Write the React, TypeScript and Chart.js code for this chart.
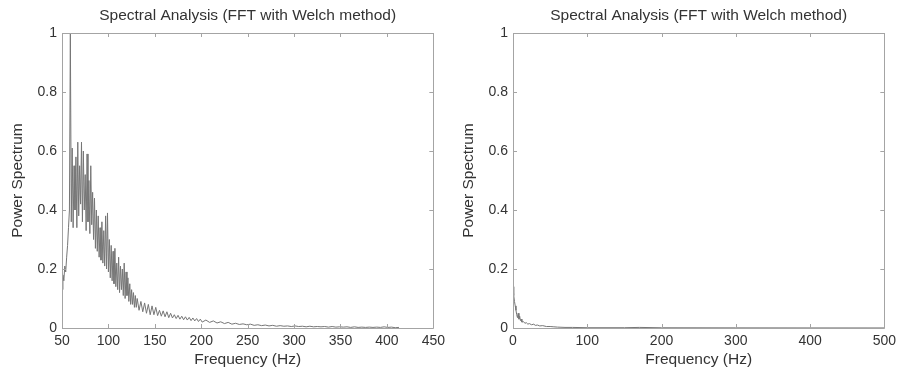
import React, { useEffect, useRef } from "react";
import { Chart, registerables } from "chart.js";

Chart.register(...registerables);

const chartTitle = "Spectral Analysis (FFT with Welch method)";
const xAxisTitle = "Frequency (Hz)";
const yAxisTitle = "Power Spectrum";

// Left panel (50–450 Hz)
const leftFreq = [
  50, 51, 52, 53, 54, 55, 56, 57, 58, 59,
  60, 61, 62, 63, 64, 65, 66, 67, 68, 69,
  70, 71, 72, 73, 74, 75, 76, 77, 78, 79,
  80, 81, 82, 83, 84, 85, 86, 87, 88, 89,
  90, 91, 92, 93, 94, 95, 96, 97, 98, 99,
  100, 101, 102, 103, 104, 105, 106, 107, 108, 109,
  110, 111, 112, 113, 114, 115, 116, 117, 118, 119,
  120, 121, 122, 123, 124, 125, 126, 127, 128, 129, 130,
  131, 133, 135, 137, 139, 141, 143, 145, 147, 149,
  151, 153, 155, 157, 159, 161, 163, 165, 167, 169,
  171, 173, 175, 177, 179, 181, 183, 185, 187, 189,
  191, 193, 195, 197, 199,
  201, 205, 209, 213, 217, 221, 225, 229, 233, 237,
  241, 245, 249, 253, 257, 261, 265, 269, 273, 277,
  281, 285, 289, 293, 297, 301, 305, 309, 313, 317,
  321, 325, 329, 333, 337, 341, 345, 349, 353, 357,
  361, 365, 369, 373, 377, 381, 385, 389, 393, 397,
  401, 405, 409, 413,
];
const leftPower = [
  0.13, 0.18, 0.16, 0.21, 0.19, 0.24, 0.28, 0.34, 0.40, 1.0,
  0.36, 0.61, 0.34, 0.55, 0.40, 0.58, 0.34, 0.63, 0.38, 0.55,
  0.42, 0.63, 0.36, 0.60, 0.40, 0.52, 0.33, 0.59, 0.36, 0.50,
  0.32, 0.55, 0.35, 0.46, 0.30, 0.44, 0.27, 0.40, 0.26, 0.38,
  0.24, 0.34, 0.23, 0.36, 0.22, 0.33, 0.21, 0.38, 0.20, 0.39,
  0.19, 0.30, 0.17, 0.28, 0.16, 0.26, 0.15, 0.27, 0.14, 0.22,
  0.13, 0.24, 0.12, 0.21, 0.13, 0.20, 0.11, 0.22, 0.10, 0.19,
  0.11, 0.17, 0.09, 0.15, 0.08, 0.13, 0.08, 0.12, 0.07, 0.11, 0.07,
  0.10, 0.06, 0.09, 0.055, 0.085, 0.05, 0.08, 0.045, 0.075, 0.045,
  0.07, 0.042, 0.06, 0.04, 0.058, 0.038, 0.055, 0.035, 0.05, 0.034,
  0.045, 0.032, 0.043, 0.03, 0.04, 0.028, 0.038, 0.027, 0.036, 0.025,
  0.034, 0.024, 0.032, 0.022, 0.03,
  0.02, 0.027, 0.019, 0.024, 0.017, 0.021, 0.015, 0.019, 0.013, 0.016,
  0.012, 0.014, 0.011, 0.013, 0.009, 0.011, 0.008, 0.01, 0.007, 0.009,
  0.006, 0.008, 0.006, 0.007, 0.005, 0.007, 0.005, 0.006, 0.004, 0.006,
  0.004, 0.005, 0.004, 0.005, 0.003, 0.005, 0.003, 0.004, 0.003, 0.004,
  0.002, 0.004, 0.002, 0.003, 0.002, 0.003, 0.002, 0.003, 0.002, 0.004,
  0.002, 0.003, 0.001, 0.002,
];

// Right panel (0–500 Hz)
const rightFreq = [
  0, 1, 2, 3, 4, 5, 6, 7, 8, 9, 10, 11, 12, 14, 16, 18, 20, 22, 25, 28,
  30, 33, 36, 40, 45, 50, 55, 60, 70, 80, 100, 150, 170, 200, 300, 400, 500,
];
const rightPower = [
  0.14, 0.11, 0.09, 0.075, 0.06, 0.045, 0.035, 0.05, 0.03, 0.04, 0.025, 0.03,
  0.02, 0.022, 0.016, 0.018, 0.013, 0.015, 0.011, 0.013, 0.009, 0.01, 0.007,
  0.008, 0.005, 0.005, 0.004, 0.003, 0.002, 0.002, 0.001, 0.001, 0.002, 0.0008,
  0.0005, 0.0003, 0.0002,
];

const leftXTicks = [50, 100, 150, 200, 250, 300, 350, 400, 450];
const rightXTicks = [0, 100, 200, 300, 400, 500];
const yTicks = [0, 0.2, 0.4, 0.6, 0.8, 1];

const TEXT = "#333333";
const AXIS = "#a4a4a4";
const LINE = "#767676";
const FONT = "'Liberation Sans', Arial, sans-serif";

const boxPlugin = {
  id: "matlabBox",
  afterDatasetsDraw(chart: any) {
    const { ctx, chartArea } = chart;
    const { left, right, top, bottom } = chartArea;
    const xs = chart.scales.x;
    const ys = chart.scales.y;
    ctx.save();
    ctx.strokeStyle = AXIS;
    ctx.lineWidth = 1;
    ctx.beginPath();
    ctx.rect(Math.round(left) + 0.5, Math.round(top) + 0.5, Math.round(right - left), Math.round(bottom - top));
    ctx.stroke();
    ctx.beginPath();
    xs.ticks.forEach((t: any) => {
      const px = Math.round(xs.getPixelForValue(t.value)) + 0.5;
      ctx.moveTo(px, bottom);
      ctx.lineTo(px, bottom - 4);
      ctx.moveTo(px, top);
      ctx.lineTo(px, top + 4);
    });
    ys.ticks.forEach((t: any) => {
      const py = Math.round(ys.getPixelForValue(t.value)) + 0.5;
      ctx.moveTo(left, py);
      ctx.lineTo(left + 4, py);
      ctx.moveTo(right, py);
      ctx.lineTo(right - 4, py);
    });
    ctx.stroke();
    ctx.restore();
  },
};

const CANVAS_W = 450;
const CANVAS_H = 374;

function makeConfig(freq: number[], power: number[], xTicks: number[]) {
  const points = freq.map((f, i) => ({ x: f, y: power[i] }));
  return {
    type: "scatter" as const,
    data: {
      datasets: [
        {
          data: points,
          showLine: true,
          borderColor: LINE,
          borderWidth: 1,
          pointRadius: 0,
          tension: 0,
        },
      ],
    },
    options: {
      responsive: false,
      animation: false as const,
      layout: { padding: { left: 0, right: 15, top: 0, bottom: 0 } },
      plugins: {
        legend: { display: false },
        tooltip: { enabled: false },
        title: {
          display: true,
          fullSize: false,
          text: chartTitle,
          color: TEXT,
          font: { family: FONT, size: 15.5, weight: "normal" as const },
          padding: { top: 6, bottom: 8.4 },
        },
      },
      scales: {
        x: {
          type: "linear" as const,
          min: xTicks[0],
          max: xTicks[xTicks.length - 1],
          afterBuildTicks(scale: any) {
            scale.ticks = xTicks.map((v) => ({ value: v }));
          },
          afterFit(scale: any) {
            scale.height = 46;
          },
          grid: { display: false, drawTicks: false },
          border: { display: false },
          ticks: {
            color: TEXT,
            font: { family: FONT, size: 14 },
            padding: 5,
            maxRotation: 0,
            autoSkip: false,
            callback: (v: any) => String(v),
          },
          title: {
            display: true,
            text: xAxisTitle,
            color: TEXT,
            font: { family: FONT, size: 15.5 },
            padding: { top: 0, bottom: 5 },
          },
        },
        y: {
          type: "linear" as const,
          min: 0,
          max: 1,
          afterBuildTicks(scale: any) {
            scale.ticks = yTicks.map((v) => ({ value: v }));
          },
          afterFit(scale: any) {
            scale.width = 62;
          },
          grid: { display: false, drawTicks: false },
          border: { display: false },
          ticks: {
            color: TEXT,
            font: { family: FONT, size: 14 },
            padding: 5,
            autoSkip: false,
            callback: (v: any) => String(v),
          },
          title: {
            display: true,
            text: yAxisTitle,
            color: TEXT,
            font: { family: FONT, size: 15.5 },
            padding: { top: 8, bottom: 0 },
          },
        },
      },
    },
    plugins: [boxPlugin],
  };
}

function Panel({ freq, power, xTicks, left }: { freq: number[]; power: number[]; xTicks: number[]; left: number }) {
  const ref = useRef<HTMLCanvasElement>(null);
  useEffect(() => {
    if (!ref.current) return;
    const chart = new Chart(ref.current, makeConfig(freq, power, xTicks) as any);
    return () => chart.destroy();
  }, []);
  return (
    <canvas
      ref={ref}
      width={CANVAS_W}
      height={CANVAS_H}
      style={{ position: "absolute", left, top: 0, width: CANVAS_W, height: CANVAS_H }}
    />
  );
}

export default function App() {
  return (
    <div
      style={{
        position: "fixed",
        left: 0,
        top: 0,
        width: 901,
        height: 374,
        overflow: "hidden",
        background: "#ffffff",
      }}
    >
      <Panel freq={leftFreq} power={leftPower} xTicks={leftXTicks} left={0} />
      <Panel freq={rightFreq} power={rightPower} xTicks={rightXTicks} left={451} />
    </div>
  );
}
